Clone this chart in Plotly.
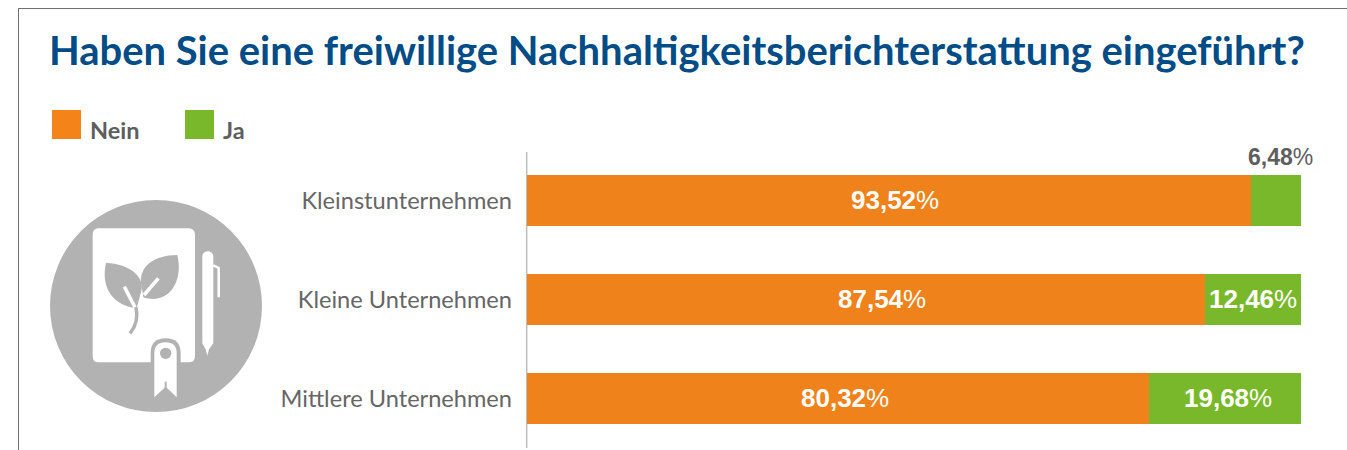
import plotly.graph_objects as go

W, H = 1347, 450
categories = ["Kleinstunternehmen", "Kleine Unternehmen", "Mittlere Unternehmen"]
nein = [93.52, 87.54, 80.32]
ja = [6.48, 12.46, 19.68]
series_names = ["Nein", "Ja"]
title_text = "Haben Sie eine freiwillige Nachhaltigkeitsberichterstattung eingeführt?"
nein_label_shift = [6, 16, 7]
ja_label_shift = [0, 0, 3]

ORANGE, GREEN, GREY, BLUE, ICON = "#F0821B", "#79B82A", "#5E5E5E", "#004C86", "#B2B2B2"
L, R, T, B = 527, 46, 151, 2
PW, PH = W - L - R, H - T - B


def px(x):
    return (x - L) / PW


def py(y):
    return 1 - (y - T) / PH


def fmt(v):
    return f"<b>{v:.2f}".replace(".", ",") + "</b>%"


def zp(*pts):
    """icon points given in px of the icon box -> paper"""
    return [(px(30 + a / 3), py(190 + b / 3)) for a, b in pts]


def path(template, *pts):
    c = [f"{a:.5f},{b:.5f}" for a, b in zp(*pts)]
    return template.format(*c)


def rect(x0, y0, x1, y1, color, width=0, line=None):
    return dict(type="rect", xref="paper", yref="paper", x0=px(x0), x1=px(x1), y0=py(y0), y1=py(y1),
                fillcolor=color, line=dict(width=width, color=line or color), layer="above")


def circle(cx, cy, r, color):
    return dict(type="circle", xref="paper", yref="paper", x0=px(cx - r), x1=px(cx + r), y0=py(cy - r), y1=py(cy + r),
                fillcolor=color, line=dict(width=0), layer="above")


def pshape(d, fill=None, stroke=None, width=0):
    s = dict(type="path", xref="paper", yref="paper", path=d, layer="above",
             line=dict(width=width, color=stroke or "rgba(0,0,0,0)"))
    if fill:
        s["fillcolor"] = fill
    return s


fig = go.Figure()
fig.add_bar(y=categories, x=nein, name=series_names[0], orientation="h", marker=dict(color=ORANGE, line_width=0))
fig.add_bar(y=categories, x=ja, name=series_names[1], orientation="h", marker=dict(color=GREEN, line_width=0))

shapes = [
    dict(type="line", xref="paper", yref="paper", x0=px(18), x1=px(W), y0=py(8.5), y1=py(8.5),
         line=dict(color="#707070", width=1), layer="above"),
    dict(type="line", xref="paper", yref="paper", x0=px(18.5), x1=px(18.5), y0=py(8), y1=py(H),
         line=dict(color="#707070", width=1), layer="above"),
    dict(type="line", xref="paper", yref="paper", x0=px(526.7), x1=px(526.7), y0=py(152), y1=py(448),
         line=dict(color="#BDBDBD", width=1.5), layer="below"),
    rect(52, 110, 81, 139, "#F4831A"),
    rect(185, 110, 214, 139, GREEN),
    circle(156, 306, 106, ICON),
]
# notebook
shapes.append(pshape(path("M{} L{} Q{} {} L{} Q{} {} L{} Q{} {} L{} Q{} {} Z",
                          (205, 115), (475, 115), (495, 115), (495, 135), (495, 497), (495, 517), (475, 517),
                          (205, 517), (188, 517), (188, 497), (188, 135), (188, 115), (205, 115)), fill="white"))
# leaves
shapes.append(pshape(path("M{} C{} {} {} L{} C{} {} {} Z",
                          (228, 218), (300, 222), (350, 262), (332, 310), (320, 355), (245, 345), (212, 290), (228, 218)),
                     fill=ICON))
shapes.append(pshape(path("M{} C{} {} {} L{} C{} {} {} Z",
                          (442, 195), (372, 195), (322, 230), (335, 290), (340, 322), (412, 345), (462, 280), (442, 195)),
                     fill=ICON))
shapes.append(pshape(path("M{} L{}", (283, 290), (315, 352)), stroke="white", width=3.5))
shapes.append(pshape(path("M{} L{}", (385, 265), (342, 315)), stroke="white", width=3.5))
shapes.append(pshape(path("M{} Q{} {}", (318, 352), (328, 395), (300, 430)), stroke=ICON, width=3.5))
# pen
shapes.append(pshape(path("M{} C{} {} {} L{} L{} L{} L{} L{} Z",
                          (517, 200), (517, 178), (550, 178), (550, 200), (550, 460), (537, 478), (532, 497), (527, 478), (517, 460)),
                     fill="white"))
shapes.append(pshape(path("M{} L{} L{}", (550, 226), (566, 234), (566, 322)), stroke="white", width=2.5))
# ribbon badge
shapes.append(pshape(path("M{} L{} Q{} {} Q{} {} L{} Z",
                          (362, 530), (362, 490), (362, 445), (407, 445), (452, 445), (452, 490), (452, 530)), fill=ICON))
shapes.append(pshape(path("M{} L{} Q{} {} Q{} {} L{} L{} L{} Z",
                          (373, 622), (373, 490), (373, 457), (407, 457), (440, 457), (440, 490), (440, 622), (407, 590), (373, 622)),
                     fill="white"))
shapes.append(circle(30 + 407 / 3, 190 + 490 / 3, 5.7, ICON))
shapes.append(pshape(path("M{} L{}", (407, 575), (407, 600)), stroke=ICON, width=2))

annotations = [
    dict(xref="paper", yref="paper", x=px(47), y=py(50), xanchor="left", yanchor="middle", showarrow=False,
         text=f"<b>{title_text}</b>", font=dict(family="Lato", size=39.95, color=BLUE)),
    dict(xref="paper", yref="paper", x=px(88), y=py(130), xanchor="left", yanchor="middle", showarrow=False,
         text=f"<b>{series_names[0]}</b>", font=dict(family="Lato", size=23.5, color=GREY)),
    dict(xref="paper", yref="paper", x=px(221), y=py(130), xanchor="left", yanchor="middle", showarrow=False,
         text=f"<b>{series_names[1]}</b>", font=dict(family="Lato", size=23.5, color=GREY)),
    dict(xref="x", yref="y", x=nein[0] + ja[0] * 0.6, y=categories[0], yshift=44, xanchor="center", yanchor="middle",
         showarrow=False, text=fmt(ja[0]), font=dict(family="Liberation Sans", size=23, color=GREY)),
]
label_font = dict(family="Liberation Sans", size=26, color="white")
for cat, n, j, ns, js in zip(categories, nein, ja, nein_label_shift, ja_label_shift):
    annotations.append(dict(xref="x", yref="y", x=n / 2, y=cat, xshift=ns, yshift=1, xanchor="center", yanchor="middle",
                            showarrow=False, text=fmt(n), font=label_font))
    if j >= 10:
        annotations.append(dict(xref="x", yref="y", x=n + j / 2, y=cat, xshift=js, yshift=1, xanchor="center", yanchor="middle",
                                showarrow=False, text=fmt(j), font=label_font))

fig.update_layout(
    width=W, height=H, margin=dict(l=L, r=R, t=T, b=B, pad=0), barmode="stack", bargap=0.485,
    plot_bgcolor="rgba(0,0,0,0)", paper_bgcolor="white", showlegend=False, hovermode=False,
    shapes=shapes, annotations=annotations,
    xaxis=dict(range=[0, 100], visible=False, fixedrange=True),
    yaxis=dict(autorange="reversed", showline=False, showgrid=False, zeroline=False,
               ticks="", ticklabelstandoff=14, tickfont=dict(family="Lato", size=23.6, color="#666666"), fixedrange=True),
)
fig.write_html("out.html", config={"displayModeBar": False},
               post_script="document.body.style.margin='0';document.body.style.overflow='hidden';")
